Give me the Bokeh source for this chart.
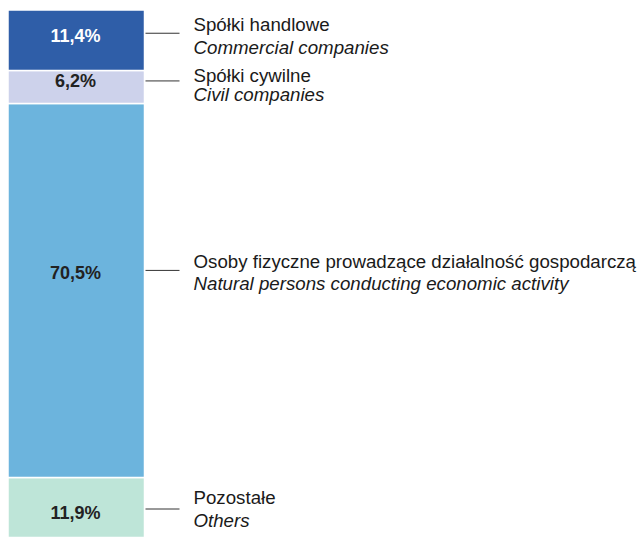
import numpy as np
from bokeh.plotting import figure
from bokeh.models import ColumnDataSource, Range1d
from bokeh.embed import file_html
from bokeh.resources import INLINE
from bokeh.core.properties import value

# ---- data (bottom to top) ----
labels_pl = ["Pozostałe",
             "Osoby fizyczne prowadzące działalność gospodarczą",
             "Spółki cywilne",
             "Spółki handlowe"]
labels_en = ["Others",
             "Natural persons conducting economic activity",
             "Civil companies",
             "Commercial companies"]
shares = [11.9, 70.5, 6.2, 11.4]
share_labels = ["11,9%", "70,5%", "6,2%", "11,4%"]

# ---- styles ----
colors = ["#BEE5D8", "#6CB4DD", "#CDD2EB", "#2F5EA8"]
pct_colors = ["#222222", "#222222", "#222222", "#FFFFFF"]

# layout shifts in px (positive = downwards on screen)
conn_shift = [0, -20, -6, -7]
pct_shift = [4, 3, 0, 3]
line1_shift = [-12, -8.5, -5, -9]
line2_shift = [11, 13.5, 14, 14]

W, H = 638, 537
y_start, y_end = 0.58, 101.79
scale = H / (y_end - y_start)

tops = np.cumsum(shares)
bottoms = tops - np.array(shares)
mids = (tops + bottoms) / 2
anchor = mids - np.array(conn_shift) / scale

src = ColumnDataSource(dict(
    top=tops, bottom=bottoms, color=colors, anchor=anchor,
    pct=share_labels, pct_color=pct_colors, pct_off=pct_shift,
    pl=labels_pl, en=labels_en, l1=line1_shift, l2=line2_shift,
))

p = figure(width=W, height=H, x_range=Range1d(0, W), y_range=Range1d(y_start, y_end),
           output_backend="svg", toolbar_location=None, min_border=0)
p.axis.visible = False
p.grid.visible = False
p.outline_line_color = None
p.background_fill_color = "white"
p.border_fill_color = "white"

p.vbar(x=75.75, width=136.5, bottom="bottom", top="top", fill_color="color",
       line_color="white", line_width=1.5, source=src)

p.text(x=75, y="anchor", text="pct", y_offset="pct_off", text_color="pct_color",
       text_align="center", text_baseline="middle",
       text_font=value("Liberation Sans"), text_font_style="bold",
       text_font_size="18px", source=src)

p.segment(x0=145, x1=179, y0="anchor", y1="anchor", line_color="#333333",
          line_width=1, source=src)

p.text(x=193, y="anchor", text="pl", y_offset="l1", text_color="#1a1a1a",
       text_align="left", text_baseline="middle",
       text_font=value("Liberation Sans"), text_font_size="18.7px", source=src)
p.text(x=193, y="anchor", text="en", y_offset="l2", text_color="#1a1a1a",
       text_align="left", text_baseline="middle",
       text_font=value("Liberation Sans"), text_font_style="italic",
       text_font_size="18.7px", source=src)

open("out.html", "w").write(file_html(p, INLINE))
